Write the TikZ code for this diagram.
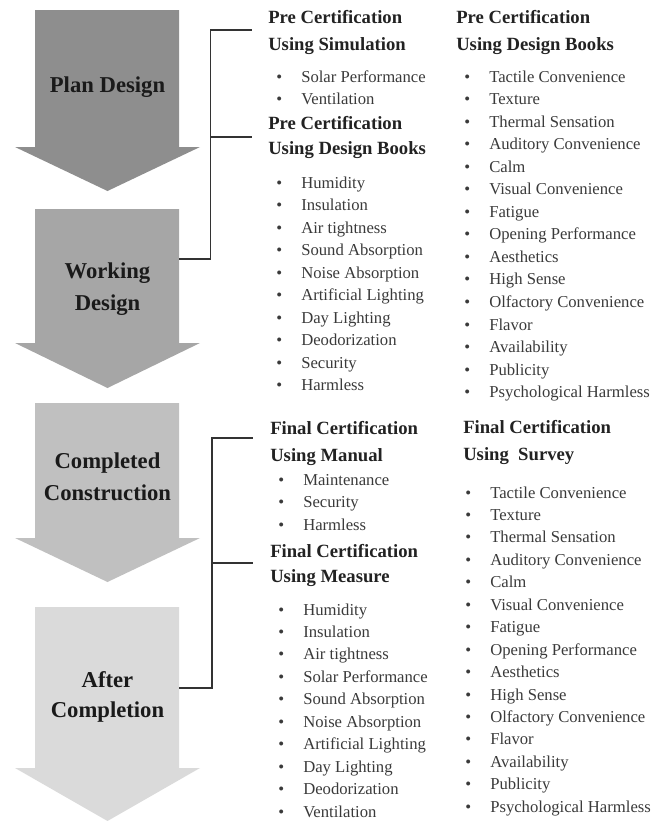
\documentclass[tikz,border=0pt]{standalone}
\usepackage{fontspec}
\setmainfont{Liberation Serif}
\definecolor{hdc}{HTML}{222222}
\definecolor{itc}{HTML}{3A3A3A}
\definecolor{labc}{HTML}{1A1A1A}
\definecolor{lnc}{HTML}{333333}
\definecolor{arA}{HTML}{8E8E8E}
\definecolor{arB}{HTML}{A6A6A6}
\definecolor{arC}{HTML}{C0C0C0}
\definecolor{arD}{HTML}{DADADA}
\newcommand\itmb[1]{\makebox[18.75pt][l]{•}#1}
\begin{document}
\begin{tikzpicture}[x=0.75pt,y=-0.75pt,
 hd/.style={anchor=base west,inner sep=0,font=\fontsize{14}{16}\selectfont\bfseries,text=hdc},
 it/.style={anchor=base west,inner sep=0,font=\fontsize{12.5}{15}\selectfont,text=itc},
 lab/.style={anchor=base,inner sep=0,font=\fontsize{17}{20}\selectfont\bfseries,text=labc},
 conn/.style={draw=lnc,line width=1.1pt}]
\useasboundingbox (0,0) rectangle (666,821);
% arrows
\fill[arA] (35,10) -- (179,10) -- (179,147) -- (200,147) -- (107.5,191) -- (15,147) -- (35,147) -- cycle;
\fill[arB] (35,209) -- (179,209) -- (179,343) -- (200,343) -- (107.5,388) -- (15,343) -- (35,343) -- cycle;
\fill[arC] (35,403) -- (179,403) -- (179,538) -- (200,538) -- (107.5,582) -- (15,538) -- (35,538) -- cycle;
\fill[arD] (35,607) -- (179,607) -- (179,768) -- (200,768) -- (107.5,821) -- (15,768) -- (35,768) -- cycle;
\node[lab] (l1) at (107.5,92) {Plan Design};
\node[lab] (l2a) at (107.5,278) {Working};
\node[lab] (l2b) at (107.5,310) {Design};
\node[lab] (l3a) at (107.5,468) {Completed};
\node[lab] (l3b) at (107.5,500) {Construction};
\node[lab] (l4a) at (107.5,687) {After};
\node[lab] (l4b) at (107.5,717) {Completion};
% headers
\node[hd] (h1a) at (268,23) {Pre Certification};
\node[hd] (h1b) at (268,50) {Using Simulation};
\node[hd] (h2a) at (268,129) {Pre Certification};
\node[hd] (h2b) at (268,154) {Using Design Books};
\node[hd] (h3a) at (456,23) {Pre Certification};
\node[hd] (h3b) at (456,50) {Using Design Books};
\node[hd] (h4a) at (270,434) {Final Certification};
\node[hd] (h4b) at (270,461) {Using Manual};
\node[hd] (h5a) at (270,557) {Final Certification};
\node[hd] (h5b) at (270,582) {Using Measure};
\node[hd] (h6a) at (463,433) {Final Certification};
\node[hd] (h6b) at (463,460) {Using\ \ Survey};
% items
\foreach \t [count=\i] in {Solar Performance, Ventilation}
  \node[it] (sa\i) at (276,{82+22.4*(\i-1)}) {\itmb{\t}};
\foreach \t [count=\i] in {Humidity, Insulation, Air tightness, Sound Absorption, Noise Absorption, Artificial Lighting, Day Lighting, Deodorization, Security, Harmless}
  \node[it] (sb\i) at (276,{188+22.55*(\i-1)}) {\itmb{\t}};
\foreach \t [count=\i] in {Tactile Convenience, Texture, Thermal Sensation, Auditory Convenience, Calm, Visual Convenience, Fatigue, Opening Performance, Aesthetics, High Sense, Olfactory Convenience, Flavor, Availability, Publicity, Psychological Harmless}
  \node[it] (sc\i) at (464,{82+22.55*(\i-1)}) {\itmb{\t}};
\foreach \t [count=\i] in {Maintenance, Security, Harmless}
  \node[it] (sd\i) at (278,{485+22.6*(\i-1)}) {\itmb{\t}};
\foreach \t [count=\i] in {Humidity, Insulation, Air tightness, Solar Performance, Sound Absorption, Noise Absorption, Artificial Lighting, Day Lighting, Deodorization, Ventilation}
  \node[it] (se\i) at (278,{615+22.45*(\i-1)}) {\itmb{\t}};
\foreach \t [count=\i] in {Tactile Convenience, Texture, Thermal Sensation, Auditory Convenience, Calm, Visual Convenience, Fatigue, Opening Performance, Aesthetics, High Sense, Olfactory Convenience, Flavor, Availability, Publicity, Psychological Harmless}
  \node[it] (sf\i) at (465,{498+22.45*(\i-1)}) {\itmb{\t}};
% connectors
\coordinate (c1s) at (179,259);
\coordinate (c1v) at (210.5,259);
\coordinate (c1t) at (252,30);
\coordinate (c1m) at (252,137);
\draw[conn] (c1s) -- (c1v) |- (c1t);
\draw[conn] (c1v |- c1m) -- (c1m);
\coordinate (c2s) at (179,688);
\coordinate (c2v) at (212,688);
\coordinate (c2t) at (253,438);
\coordinate (c2m) at (253,563);
\draw[conn] (c2s) -- (c2v) |- (c2t);
\draw[conn] (c2v |- c2m) -- (c2m);
\end{tikzpicture}
\end{document}
